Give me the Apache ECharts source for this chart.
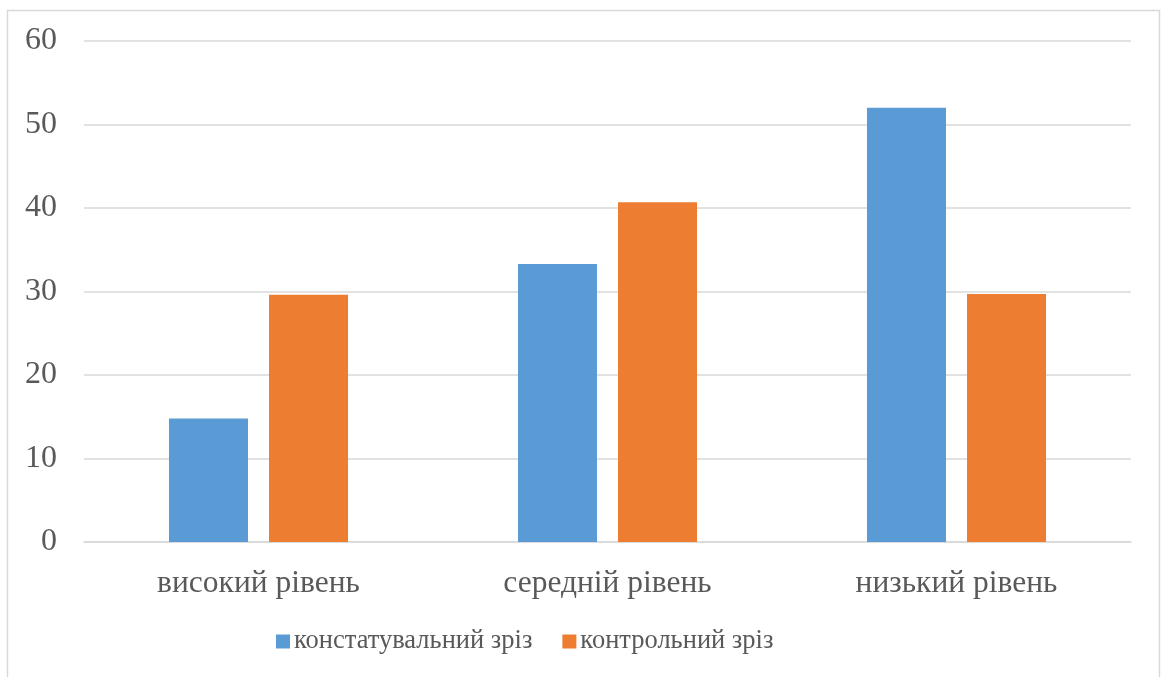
<!DOCTYPE html>
<html>
<head>
<meta charset="utf-8">
<script src="https://cdn.jsdelivr.net/npm/echarts@6/dist/echarts.min.js"></script>
<style>
  html, body { margin: 0; padding: 0; background: #fff; }
  #chart { width: 1166px; height: 677px; }
</style>
</head>
<body>
<div id="chart"></div>
<script>
// Рівні сформованості та результати двох зрізів (%)
const categories = ['високий рівень', 'середній рівень', 'низький рівень'];
const ascertainingValues = [14.8, 33.3, 52.0];
const controlValues = [29.6, 40.7, 29.7];
const seriesNames = ['констатувальний зріз', 'контрольний зріз'];

const FONT = '"Liberation Serif", "Times New Roman", serif';
const TEXT = '#595959';

const chart = echarts.init(document.getElementById('chart'), null, { renderer: 'canvas' });
chart.setOption({
  animation: false,
  backgroundColor: '#ffffff',
  graphic: [{
    type: 'rect',
    shape: { x: 7.5, y: 10.5, width: 1152, height: 700 },
    style: { fill: 'none', stroke: '#d9d9d9', lineWidth: 1.5 },
    silent: true
  }],
  grid: { left: 84, right: 35, top: 41, bottom: 135 },
  legend: {
    data: seriesNames,
    left: 271,
    top: 623,
    itemWidth: 14,
    itemHeight: 14,
    itemGap: 30,
    icon: 'rect',
    textStyle: { fontFamily: FONT, fontSize: 26.5, color: TEXT, padding: [0, 0, 0, -1] }
  },
  xAxis: {
    type: 'category',
    data: categories,
    axisLine: { show: true, lineStyle: { color: '#d9d9d9', width: 1.5 } },
    axisTick: { show: false },
    axisLabel: { fontFamily: FONT, fontSize: 31.5, color: TEXT, margin: 26 }
  },
  yAxis: {
    type: 'value',
    min: 0,
    max: 60,
    interval: 10,
    axisLine: { show: false },
    axisTick: { show: false },
    splitLine: { lineStyle: { color: '#d9d9d9', width: 1.5 } },
    axisLabel: { fontFamily: FONT, fontSize: 32, color: TEXT, margin: 27 }
  },
  series: [
    {
      name: seriesNames[0],
      type: 'bar',
      data: ascertainingValues,
      barGap: '26.6%',
      barCategoryGap: '48.7%',
      itemStyle: { color: '#5B9BD5' }
    },
    {
      name: seriesNames[1],
      type: 'bar',
      data: controlValues,
      itemStyle: { color: '#ED7D31' }
    }
  ]
});
</script>
</body>
</html>
